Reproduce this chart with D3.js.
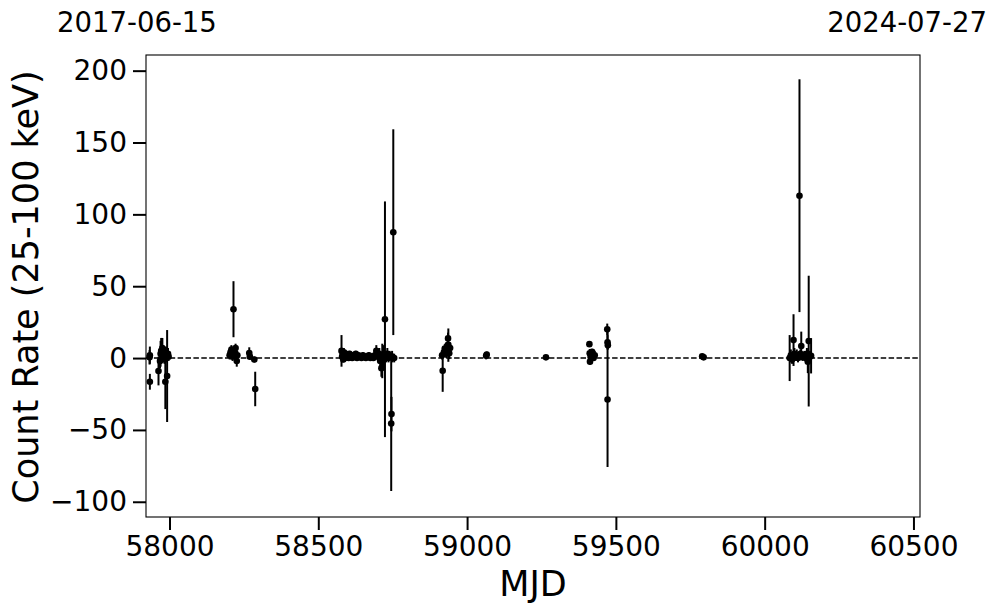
<!DOCTYPE html>
<html><head><meta charset="utf-8">
<script src="https://cdn.jsdelivr.net/npm/d3@7"></script>
<style>body{margin:0;background:#fff}svg{display:block}text{font-family:"DejaVu Sans",sans-serif;fill:#000}</style>
</head><body>
<svg id="c" width="997" height="613"></svg>
<script>
// MJD, count rate, 1-sigma error
const mjd = [57933,57934,57934,57963,57968,57970,57972,57974,57976,57978,57980,57983,57986,57988,57992,57995,57997,
58202,58205,58208,58212,58215,58218,58222,58226,58228,58268,58270,58285,58288,
58578,58580,58582,58584,58586,58588,58590,58593,58596,58599,58602,58605,58608,58611,58614,58618,58622,58626,58630,58635,58640,58645,58650,58655,58660,58665,58670,58675,58680,58685,58690,58695,58700,58705,58708,58712,58715,58718,58724,58728,58732,58736,58740,58745,58746,58748,58752,58755,
58916,58918,58922,58925,58930,58935,58936,58937,58940,58943,59064,59066,
59265,
59411,59412,59413,59415,59420,59425,59429,59471,59472,59472,59473,
59790,59795,
60084,60088,60092,60097,60100,60104,60108,60112,60117,60120,60123,60128,60133,60138,60142,60145,60148,60152,60156];
const rate = [0.5,2,-16.5,-9,-2,3,5,1,7,4,2,-1,-16.5,3,-12.5,3,1,
2,4,6,1,34,5,7,-2,2,3.5,1,-1,-21.5,
5,1,3,-1,4,2,0,3,1,2,0,3,1,2,0,2,1,3,0,2,1,0,2,1,0,1,2,0,1,0,2,5,1,3,-2,-7,-2,1,27,1,3,0,2,-45.5,-39,1,87.6,0,
2,-8.8,4,6.7,3,9,13.7,9,3.3,7,1.6,2.5,
0.5,
9.7,3.3,-2.5,1,4.4,0,2,20,11,-28.8,9,
1.2,0.5,
0,2,-1,12.5,3,1,2,0,113,3,8.4,1,2,0,3,-2.5,11.8,1,1.6];
const err = [5,6,5.5,10,5,9,9,4,7,5,4,3,19,5,32,4,3,
3,3,3,3,19.5,3,3,4,3,4,2,2,12,
11,3,3,2,3,2,2,2,2,2,2,2,2,2,2,2,2,2,2,2,2,2,2,2,2,2,2,1.5,2,2,3,4,3,4,5,6,12,8,82,4,4,3,3,47,12,4,71.6,3,
3,14.7,3,3,3,4,4,11.6,4,4,2.5,2,
1.5,
2,3,2,2,2,2,3,4,5,47,3,
1,1,
16,4,3,18,4,3,4,3,81,3,10,3,3,3,4,8,45.5,4,12.3];
const xTicks = [58000,58500,59000,59500,60000,60500];
const yTicks = [-100,-50,0,50,100,150,200];
const dateLabels = ["2017-06-15","2024-07-27"];

const svg = d3.select("#c");
const L=146, R=920, T=55, B=517;
const x = d3.scaleLinear().domain([57921,60522]).range([L,R]);
const y = d3.scaleLinear().domain([-110.6,210.9]).range([B,T]);
const data = mjd.map((m,i)=>({m, r:rate[i], e:err[i]}));

// zero line
svg.append("line").attr("x1",L).attr("x2",R).attr("y1",y(0)).attr("y2",y(0))
  .attr("stroke","#000").attr("stroke-width",1.5).attr("stroke-dasharray","5.5,2.4");

const g = svg.append("g");
g.selectAll("line.eb").data(data).join("line").attr("class","eb")
  .attr("x1",d=>x(d.m)).attr("x2",d=>x(d.m))
  .attr("y1",d=>y(d.r-d.e)).attr("y2",d=>y(d.r+d.e))
  .attr("stroke","#000").attr("stroke-width",2);
g.selectAll("circle").data(data).join("circle")
  .attr("cx",d=>x(d.m)).attr("cy",d=>y(d.r)).attr("r",3.3).attr("fill","#000");

// frame
svg.append("rect").attr("x",L).attr("y",T).attr("width",R-L).attr("height",B-T)
  .attr("fill","none").attr("stroke","#000").attr("stroke-width",1.1);

const xa = svg.append("g").attr("transform",`translate(0,${B})`)
  .call(d3.axisBottom(x).tickValues(xTicks).tickFormat(d3.format("d")).tickSize(13).tickPadding(6));
const ya = svg.append("g").attr("transform",`translate(${L},0)`)
  .call(d3.axisLeft(y).tickValues(yTicks).tickFormat(d=>d<0?"\u2212"+Math.abs(d):d).tickSize(13).tickPadding(6));
[xa,ya].forEach(a=>{
  a.select(".domain").remove();
  a.selectAll(".tick line").attr("stroke","#000").attr("stroke-width",2);
  a.selectAll(".tick text").style("font-size","28px").style("font-family","DejaVu Sans");
});

svg.append("text").attr("x",533).attr("y",596).attr("text-anchor","middle")
  .style("font-size","35px").text("MJD");
svg.append("text").attr("transform","translate(38,287) rotate(-90)").attr("text-anchor","middle")
  .style("font-size","35px").text("Count Rate (25-100 keV)");
svg.append("text").attr("x",57).attr("y",32).style("font-size","27.5px").text(dateLabels[0]);
svg.append("text").attr("x",987).attr("y",32).attr("text-anchor","end").style("font-size","27.5px").text(dateLabels[1]);
</script>
</body></html>
